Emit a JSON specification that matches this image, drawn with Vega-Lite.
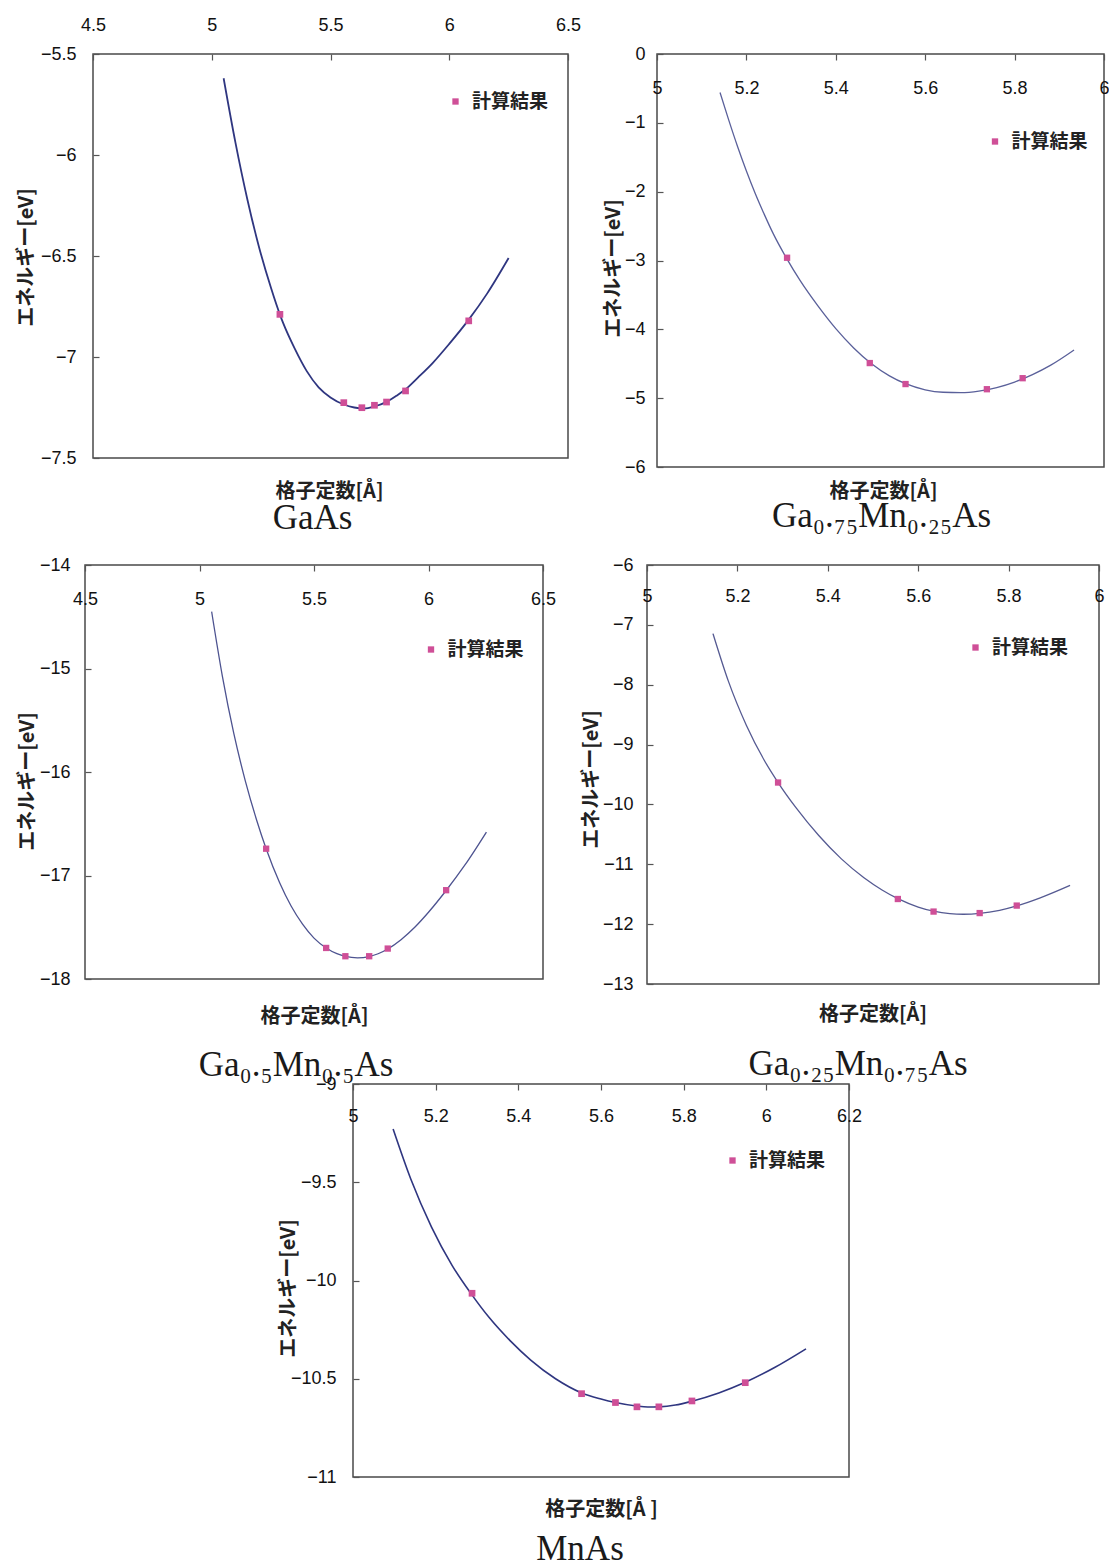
{
  "$schema": "https://vega.github.io/schema/vega-lite/v6.json",
  "background": "white",
  "padding": {"left": 0, "top": 15, "right": 0, "bottom": 0},
  "config": {
    "view": {"stroke": "#4a4a4a", "strokeWidth": 1.5},
    "axis": {"domain": false, "grid": false, "tickColor": "#555", "tickSize": -6, "tickWidth": 1.2,
      "labelFont": "Liberation Sans", "labelFontSize": 18, "labelFontWeight": "normal", "labelColor": "#111", "labelFlush": false, "labelOverlap": false, "labelBound": false,
      "titleFont": "Noto Sans CJK JP", "titleFontSize": 20, "titleFontWeight": "bold", "titleColor": "#222"},
    "legend": {"orient": "none", "title": null, "symbolType": "square", "symbolSize": 40, "symbolStrokeWidth": 0,
      "labelFont": "Noto Sans CJK JP", "labelFontSize": 19, "labelFontWeight": "bold", "labelColor": "#222", "labelOffset": 7, "padding": 0},
    "title": {"font": "Liberation Serif", "fontSize": 35, "fontWeight": "normal", "color": "#1a1a1a", "frame": "group", "anchor": "middle"}
  },
  "datasets": {
    "c1": [{"a":5.05,"E":-5.62},{"a":5.10,"E":-5.94},{"a":5.15,"E":-6.22},{"a":5.20,"E":-6.46},{"a":5.25,"E":-6.66},{"a":5.287,"E":-6.79},{"a":5.30,"E":-6.83},{"a":5.35,"E":-6.96},{"a":5.40,"E":-7.07},{"a":5.45,"E":-7.15},{"a":5.50,"E":-7.20},{"a":5.556,"E":-7.235},{"a":5.60,"E":-7.25},{"a":5.64,"E":-7.255},{"a":5.685,"E":-7.245},{"a":5.736,"E":-7.222},{"a":5.78,"E":-7.19},{"a":5.816,"E":-7.16},{"a":5.87,"E":-7.10},{"a":5.93,"E":-7.03},{"a":6.00,"E":-6.935},{"a":6.082,"E":-6.815},{"a":6.16,"E":-6.685},{"a":6.25,"E":-6.51}],
    "p1": [{"a":5.287,"E":-6.789,"s":"計算結果"},{"a":5.556,"E":-7.226,"s":"計算結果"},{"a":5.632,"E":-7.251,"s":"計算結果"},{"a":5.685,"E":-7.239,"s":"計算結果"},{"a":5.736,"E":-7.223,"s":"計算結果"},{"a":5.816,"E":-7.168,"s":"計算結果"},{"a":6.082,"E":-6.821,"s":"計算結果"}],
    "c2": [{"a":5.141,"E":-0.56},{"a":5.16,"E":-0.95},{"a":5.18,"E":-1.34},{"a":5.20,"E":-1.70},{"a":5.22,"E":-2.03},{"a":5.24,"E":-2.33},{"a":5.26,"E":-2.61},{"a":5.29,"E":-2.97},{"a":5.32,"E":-3.29},{"a":5.36,"E":-3.66},{"a":5.40,"E":-3.99},{"a":5.44,"E":-4.27},{"a":5.48,"E":-4.50},{"a":5.52,"E":-4.676},{"a":5.556,"E":-4.79},{"a":5.60,"E":-4.878},{"a":5.64,"E":-4.914},{"a":5.68,"E":-4.92},{"a":5.72,"E":-4.898},{"a":5.76,"E":-4.846},{"a":5.80,"E":-4.766},{"a":5.84,"E":-4.658},{"a":5.88,"E":-4.524},{"a":5.933,"E":-4.30}],
    "p2": [{"a":5.291,"E":-2.96,"s":"計算結果"},{"a":5.476,"E":-4.49,"s":"計算結果"},{"a":5.556,"E":-4.795,"s":"計算結果"},{"a":5.738,"E":-4.87,"s":"計算結果"},{"a":5.818,"E":-4.71,"s":"計算結果"}],
    "c3": [{"a":5.053,"E":-14.45},{"a":5.10,"E":-15.075},{"a":5.15,"E":-15.63},{"a":5.20,"E":-16.085},{"a":5.25,"E":-16.468},{"a":5.291,"E":-16.741},{"a":5.35,"E":-17.07},{"a":5.40,"E":-17.295},{"a":5.45,"E":-17.47},{"a":5.50,"E":-17.605},{"a":5.553,"E":-17.70},{"a":5.60,"E":-17.755},{"a":5.637,"E":-17.782},{"a":5.69,"E":-17.796},{"a":5.741,"E":-17.783},{"a":5.78,"E":-17.756},{"a":5.822,"E":-17.71},{"a":5.88,"E":-17.62},{"a":5.94,"E":-17.50},{"a":6.00,"E":-17.355},{"a":6.077,"E":-17.145},{"a":6.16,"E":-16.896},{"a":6.253,"E":-16.58}],
    "p3": [{"a":5.291,"E":-16.741,"s":"計算結果"},{"a":5.553,"E":-17.70,"s":"計算結果"},{"a":5.637,"E":-17.78,"s":"計算結果"},{"a":5.741,"E":-17.78,"s":"計算結果"},{"a":5.822,"E":-17.706,"s":"計算結果"},{"a":6.077,"E":-17.142,"s":"計算結果"}],
    "c4": [{"a":5.146,"E":-7.147},{"a":5.18,"E":-7.94},{"a":5.22,"E":-8.68},{"a":5.26,"E":-9.27},{"a":5.29,"E":-9.634},{"a":5.33,"E":-10.058},{"a":5.38,"E":-10.52},{"a":5.43,"E":-10.91},{"a":5.48,"E":-11.225},{"a":5.52,"E":-11.429},{"a":5.555,"E":-11.574},{"a":5.60,"E":-11.714},{"a":5.634,"E":-11.784},{"a":5.67,"E":-11.825},{"a":5.70,"E":-11.835},{"a":5.736,"E":-11.821},{"a":5.78,"E":-11.769},{"a":5.818,"E":-11.695},{"a":5.87,"E":-11.56},{"a":5.936,"E":-11.352}],
    "p4": [{"a":5.290,"E":-9.634,"s":"計算結果"},{"a":5.555,"E":-11.58,"s":"計算結果"},{"a":5.634,"E":-11.79,"s":"計算結果"},{"a":5.736,"E":-11.815,"s":"計算結果"},{"a":5.818,"E":-11.69,"s":"計算結果"}],
    "c5": [{"a":5.097,"E":-9.229},{"a":5.14,"E":-9.485},{"a":5.19,"E":-9.728},{"a":5.24,"E":-9.924},{"a":5.286,"E":-10.068},{"a":5.33,"E":-10.19},{"a":5.38,"E":-10.306},{"a":5.43,"E":-10.405},{"a":5.49,"E":-10.50},{"a":5.553,"E":-10.572},{"a":5.60,"E":-10.603},{"a":5.635,"E":-10.621},{"a":5.686,"E":-10.639},{"a":5.713,"E":-10.644},{"a":5.74,"E":-10.643},{"a":5.78,"E":-10.634},{"a":5.82,"E":-10.614},{"a":5.885,"E":-10.572},{"a":5.949,"E":-10.518},{"a":6.02,"E":-10.443},{"a":6.096,"E":-10.348}],
    "p5": [{"a":5.288,"E":-10.065,"s":"計算結果"},{"a":5.553,"E":-10.576,"s":"計算結果"},{"a":5.635,"E":-10.621,"s":"計算結果"},{"a":5.687,"E":-10.643,"s":"計算結果"},{"a":5.740,"E":-10.643,"s":"計算結果"},{"a":5.820,"E":-10.613,"s":"計算結果"},{"a":5.949,"E":-10.52,"s":"計算結果"}]
  },
  "resolve": {"scale": {"color": "independent"}},
  "spacing": 18,
  "vconcat": [
    {
      "hconcat": [
        {"width": 15, "height": 1, "view": {"stroke": null}, "data": {"values": []}, "mark": "point"},
        {
          "hconcat": [
            {
              "width": 475, "height": 404,
              "title": {"text": "GaAs", "orient": "bottom", "dx": -18, "offset": 0},
              "layer": [
                {"data": {"name": "c1"}, "mark": {"type": "line", "color": "#2f3680", "strokeWidth": 1.8, "interpolate": "monotone"},
                 "encoding": {
                   "x": {"field": "a", "type": "quantitative", "scale": {"domain": [4.5, 6.5], "nice": false, "zero": false},
                     "axis": {"orient": "top", "values": [4.5, 5, 5.5, 6, 6.5], "format": "~g", "labelPadding": 35, "labelBaseline": "middle", "title": "格子定数[Å]", "titleX": 236, "titleY": 437, "titleBaseline": "middle"}},
                   "y": {"field": "E", "type": "quantitative", "scale": {"domain": [-7.5, -5.5], "nice": false, "zero": false},
                     "axis": {"values": [-7.5, -7, -6.5, -6, -5.5], "format": "~g", "labelPadding": 23, "title": "エネルギー[eV]", "titleX": -67, "titleY": 203, "titleBaseline": "middle", "titleAngle": 270}}
                 }},
                {"data": {"name": "p1"}, "mark": {"type": "point", "shape": "square", "filled": true, "size": 45, "opacity": 1},
                 "encoding": {"x": {"field": "a", "type": "quantitative"}, "y": {"field": "E", "type": "quantitative"},
                   "color": {"field": "s", "type": "nominal", "scale": {"range": ["#cf4f97"]}, "legend": {"legendX": 353, "legendY": 38}}}}
              ]
            },
            {
              "width": 447, "height": 413,
              "title": {"text": "Ga₀.₇₅Mn₀.₂₅As", "orient": "bottom", "dx": 1, "offset": -2},
              "layer": [
                {"data": {"name": "c2"}, "mark": {"type": "line", "color": "#5a609a", "strokeWidth": 1.3, "interpolate": "monotone"},
                 "encoding": {
                   "x": {"field": "a", "type": "quantitative", "scale": {"domain": [5, 6], "nice": false, "zero": false},
                     "axis": {"orient": "top", "values": [5, 5.2, 5.4, 5.6, 5.8, 6], "format": "~g", "labelPadding": -28, "labelBaseline": "middle", "title": "格子定数[Å]", "titleX": 226, "titleY": 437, "titleBaseline": "middle"}},
                   "y": {"field": "E", "type": "quantitative", "scale": {"domain": [-6, 0], "nice": false, "zero": false},
                     "axis": {"values": [-6, -5, -4, -3, -2, -1, 0], "format": "~g", "labelPadding": 18, "title": "エネルギー[eV]", "titleX": -43.5, "titleY": 214, "titleBaseline": "middle", "titleAngle": 270}}
                 }},
                {"data": {"name": "p2"}, "mark": {"type": "point", "shape": "square", "filled": true, "size": 40, "opacity": 1},
                 "encoding": {"x": {"field": "a", "type": "quantitative"}, "y": {"field": "E", "type": "quantitative"},
                   "color": {"field": "s", "type": "nominal", "scale": {"range": ["#cf4f97"]}, "legend": {"legendX": 328.5, "legendY": 78}}}}
              ]
            }
          ],
          "spacing": 89,
          "bounds": "flush",
          "resolve": {"scale": {"color": "independent"}}
        }
      ],
      "spacing": 0,
      "resolve": {"scale": {"color": "independent"}}
    },
    {
      "vconcat": [
        {
          "hconcat": [
            {"width": 16, "height": 1, "view": {"stroke": null}, "data": {"values": []}, "mark": "point"},
            {
              "hconcat": [
                {
                  "width": 458, "height": 414,
                  "title": {"text": "Ga₀.₅Mn₀.₅As", "orient": "bottom", "dx": -18, "offset": 22},
                  "layer": [
                    {"data": {"name": "c3"}, "mark": {"type": "line", "color": "#4d5390", "strokeWidth": 1.3, "interpolate": "monotone"},
                     "encoding": {
                       "x": {"field": "a", "type": "quantitative", "scale": {"domain": [4.5, 6.5], "nice": false, "zero": false},
                         "axis": {"orient": "top", "values": [4.5, 5, 5.5, 6, 6.5], "format": "~g", "labelPadding": -28, "labelBaseline": "middle", "title": "格子定数[Å]", "titleX": 229, "titleY": 451, "titleBaseline": "middle"}},
                       "y": {"field": "E", "type": "quantitative", "scale": {"domain": [-18, -14], "nice": false, "zero": false},
                         "axis": {"values": [-18, -17, -16, -15, -14], "format": "~g", "labelPadding": 21, "title": "エネルギー[eV]", "titleX": -58, "titleY": 216, "titleBaseline": "middle", "titleAngle": 270}}
                     }},
                    {"data": {"name": "p3"}, "mark": {"type": "point", "shape": "square", "filled": true, "size": 40, "opacity": 1},
                     "encoding": {"x": {"field": "a", "type": "quantitative"}, "y": {"field": "E", "type": "quantitative"},
                       "color": {"field": "s", "type": "nominal", "scale": {"range": ["#cf4f97"]}, "legend": {"legendX": 336.5, "legendY": 75}}}}
                  ]
                },
                {
                  "width": 452, "height": 419,
                  "title": {"text": "Ga₀.₂₅Mn₀.₇₅As", "orient": "bottom", "dx": -15, "offset": 23},
                  "layer": [
                    {"data": {"name": "c4"}, "mark": {"type": "line", "color": "#555a92", "strokeWidth": 1.3, "interpolate": "monotone"},
                     "encoding": {
                       "x": {"field": "a", "type": "quantitative", "scale": {"domain": [5, 6], "nice": false, "zero": false},
                         "axis": {"orient": "top", "values": [5, 5.2, 5.4, 5.6, 5.8, 6], "format": "~g", "labelPadding": -25, "labelBaseline": "middle", "title": "格子定数[Å]", "titleX": 225.5, "titleY": 449, "titleBaseline": "middle"}},
                       "y": {"field": "E", "type": "quantitative", "scale": {"domain": [-13, -6], "nice": false, "zero": false},
                         "axis": {"values": [-13, -12, -11, -10, -9, -8, -7, -6], "format": "~g", "labelPadding": 20, "title": "エネルギー[eV]", "titleX": -56, "titleY": 214, "titleBaseline": "middle", "titleAngle": 270}}
                     }},
                    {"data": {"name": "p4"}, "mark": {"type": "point", "shape": "square", "filled": true, "size": 40, "opacity": 1},
                     "encoding": {"x": {"field": "a", "type": "quantitative"}, "y": {"field": "E", "type": "quantitative"},
                       "color": {"field": "s", "type": "nominal", "scale": {"range": ["#cf4f97"]}, "legend": {"legendX": 319, "legendY": 73}}}}
                  ]
                }
              ],
              "spacing": 104,
              "bounds": "flush",
              "resolve": {"scale": {"color": "independent"}}
            }
          ],
          "spacing": 0,
          "resolve": {"scale": {"color": "independent"}}
        },
        {
          "hconcat": [
            {"width": 277, "height": 1, "view": {"stroke": null}, "data": {"values": []}, "mark": "point"},
            {
              "width": 496, "height": 393,
              "title": {"text": "MnAs", "orient": "bottom", "dx": -21, "offset": 13},
              "layer": [
                {"data": {"name": "c5"}, "mark": {"type": "line", "color": "#2f3680", "strokeWidth": 1.6, "interpolate": "monotone"},
                 "encoding": {
                   "x": {"field": "a", "type": "quantitative", "scale": {"domain": [5, 6.2], "nice": false, "zero": false},
                     "axis": {"orient": "top", "values": [5, 5.2, 5.4, 5.6, 5.8, 6, 6.2], "format": "~g", "labelPadding": -26, "labelBaseline": "middle", "title": "格子定数[Å ]", "titleX": 248, "titleY": 425, "titleBaseline": "middle"}},
                   "y": {"field": "E", "type": "quantitative", "scale": {"domain": [-11, -9], "nice": false, "zero": false},
                     "axis": {"values": [-11, -10.5, -10, -9.5, -9], "format": "~g", "labelPadding": 23, "title": "エネルギー[eV]", "titleX": -65, "titleY": 204, "titleBaseline": "middle", "titleAngle": 270}}
                 }},
                {"data": {"name": "p5"}, "mark": {"type": "point", "shape": "square", "filled": true, "size": 45, "opacity": 1},
                 "encoding": {"x": {"field": "a", "type": "quantitative"}, "y": {"field": "E", "type": "quantitative"},
                   "color": {"field": "s", "type": "nominal", "scale": {"range": ["#cf4f97"]}, "legend": {"legendX": 370, "legendY": 67}}}}
              ]
            }
          ],
          "spacing": 0,
          "resolve": {"scale": {"color": "independent"}}
        }
      ],
      "spacing": -11,
      "resolve": {"scale": {"color": "independent"}}
    }
  ]
}
